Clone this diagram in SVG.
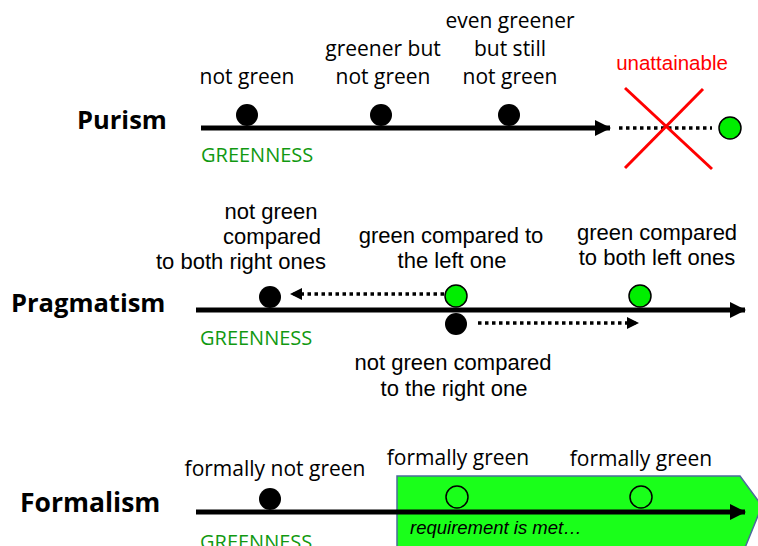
<svg xmlns="http://www.w3.org/2000/svg" width="758" height="546" viewBox="0 0 758 546">
<defs>
<marker id="ah" markerWidth="16" markerHeight="16" refX="15" refY="8" orient="auto" markerUnits="userSpaceOnUse">
<path d="M0,0 L16,8 L0,16 Z" fill="#000"/>
</marker>
<marker id="ahs" markerWidth="12" markerHeight="12" refX="11" refY="6" orient="auto" markerUnits="userSpaceOnUse">
<path d="M0,0 L12,6 L0,12 Z" fill="#000"/>
</marker>
<style>
.lbl{font-family:"Open Sans","Noto Sans",sans-serif;font-size:21px;fill:#000;text-anchor:middle}
.lba{font-family:"Liberation Sans",Arial,sans-serif;font-size:22px;fill:#000;text-anchor:middle}
.ttl{font-family:"Open Sans","Noto Sans",sans-serif;font-size:25.5px;font-weight:bold;fill:#000}
.gn{font-family:"Open Sans","Noto Sans",sans-serif;font-size:20px;fill:#119911}
.axis{stroke:#000;stroke-width:5;fill:none}
.dash{stroke:#000;stroke-width:3.5;stroke-dasharray:3.5 3.5;fill:none}
.blk{fill:#000}
.grn{fill:#00ee00;stroke:#000;stroke-width:1.5}
.hol{fill:none;stroke:#000;stroke-width:1.5}
</style>
</defs>
<rect width="758" height="546" fill="#fff"/>

<g id="formal-box">
<path d="M397,476 L740,476 L762,506 L740,560 L397,560 Z" fill="#1aff1a" stroke="#4b6b9b" stroke-width="1.5"/>
<text x="410" y="534" font-family="Liberation Sans, Arial, sans-serif" font-size="18.5" font-style="italic" fill="#000">requirement is met…</text>
</g>

<g id="connectors">
<line class="axis" x1="201" y1="128" x2="610" y2="128" marker-end="url(#ah)"/>
<line class="dash" x1="619" y1="128" x2="712" y2="128"/>
<line class="axis" x1="196" y1="310" x2="745" y2="310" marker-end="url(#ah)"/>
<line class="dash" x1="444" y1="294" x2="291" y2="294" marker-end="url(#ahs)"/>
<line class="dash" x1="478" y1="323" x2="638" y2="323" marker-end="url(#ahs)"/>
<line class="axis" x1="196" y1="512" x2="745" y2="512" marker-end="url(#ah)"/>
</g>

<g id="purism">
<text class="ttl" x="77" y="129">Purism</text>
<text class="gn" x="201" y="162">GREENNESS</text>
</g>
<g id="p1"><circle class="blk" cx="247" cy="115" r="11"/><text class="lbl" x="247" y="84">not green</text></g>
<g id="p2"><circle class="blk" cx="381" cy="115" r="11"/><text class="lbl" x="383" y="56">greener but</text><text class="lbl" x="383" y="84">not green</text></g>
<g id="p3"><circle class="blk" cx="509" cy="115" r="11"/><text class="lbl" x="510" y="28">even greener</text><text class="lbl" x="510" y="56">but still</text><text class="lbl" x="510" y="84">not green</text></g>
<g id="p4">
<circle class="grn" cx="730" cy="128" r="11"/>
<line x1="625" y1="88" x2="712" y2="169" stroke="#ff0000" stroke-width="3"/>
<line x1="703" y1="89" x2="625" y2="168" stroke="#ff0000" stroke-width="3"/>
<text x="672" y="70" font-family="Liberation Sans, Arial, sans-serif" font-size="20.5" fill="#ff0000" text-anchor="middle">unattainable</text>
</g>

<g id="pragmatism">
<text class="ttl" x="11" y="312">Pragmatism</text>
<text class="gn" x="200" y="345">GREENNESS</text>
</g>
<g id="g1"><circle class="blk" cx="270" cy="297" r="11"/><text class="lba" x="271" y="219">not green</text><text class="lba" x="272" y="244">compared</text><text class="lba" x="241" y="269">to both right ones</text></g>
<g id="g2"><circle class="grn" cx="456" cy="296" r="11"/><text class="lba" x="451" y="243">green compared to</text><text class="lba" x="452" y="268">the left one</text></g>
<g id="g3"><circle class="blk" cx="456" cy="324" r="11"/><text class="lba" x="453" y="370">not green compared</text><text class="lba" x="454" y="396">to the right one</text></g>
<g id="g4"><circle class="grn" cx="640" cy="296" r="11"/><text class="lba" x="657" y="240">green compared</text><text class="lba" x="657" y="265">to both left ones</text></g>

<g id="formalism">
<text class="ttl" x="20" y="512" style="font-size:26.5px">Formalism</text>
<text class="gn" x="200" y="549">GREENNESS</text>
</g>
<g id="f1"><circle class="blk" cx="270" cy="499" r="11"/><text class="lbl" x="275" y="476">formally not green</text></g>
<g id="f2"><circle class="hol" cx="457" cy="497" r="11"/><text class="lbl" x="458" y="465">formally green</text></g>
<g id="f3"><circle class="hol" cx="641" cy="497" r="11"/><text class="lbl" x="641" y="466">formally green</text></g>
</svg>
